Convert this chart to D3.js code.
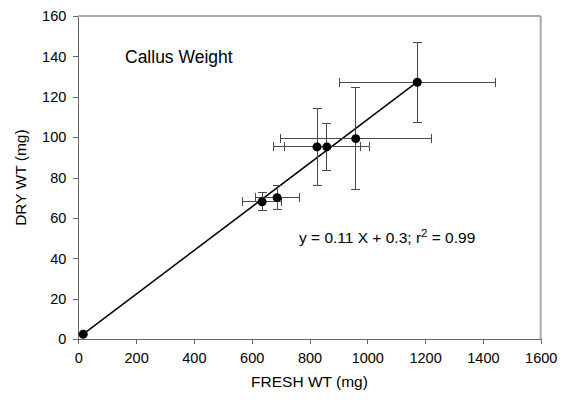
<!DOCTYPE html>
<html>
<meta charset="utf-8">
<script src="https://d3js.org/d3.v7.js"></script>
<style>
    body { margin: 0; background: #fff; }
    text { font-family: "Liberation Sans", Arial, sans-serif; fill: #000; }
</style>
<body>
    <div id="my_scatter"></div>
    <script>

        // data (mg)
        var freshWt = [17, 636, 688, 826, 860, 960, 1173];
        var dryWt = [2.5, 68.1, 70.1, 95.2, 95.2, 99.3, 127.2];
        var freshErr = [0, 68, 76, 150, 147, 262, 269];
        var dryErr = [0, 4.6, 6, 19.2, 11.6, 25.2, 19.7];

        // fitted line, as drawn
        var fitSlope = 0.108;
        var fitIntercept = 0.7;
        var fitRange = [17, 1173];

        var xTicks = [0, 200, 400, 600, 800, 1000, 1200, 1400, 1600];
        var yTicks = [0, 20, 40, 60, 80, 100, 120, 140, 160];

        // set the dimensions and margins of the graph
        var margin = { top: 16, right: 27.3, bottom: 60.7, left: 78.3 },
            width = 568 - margin.left - margin.right,
            height = 400 - margin.top - margin.bottom;

        var svg = d3.select("#my_scatter")
            .append("svg")
            .attr("width", 568)
            .attr("height", 400)
            .append("g")
            .attr("transform", "translate(" + margin.left + "," + margin.top + ")");

        var x = d3.scaleLinear().domain([0, 1600]).range([0, width]);
        var y = d3.scaleLinear().domain([0, 160]).range([height, 0]);

        // frame: top and right in light grey
        svg.append("line")
            .attr("x1", 0).attr("x2", width).attr("y1", 0).attr("y2", 0)
            .style("stroke", "#a8a8a8").style("stroke-width", 2);
        svg.append("line")
            .attr("x1", width).attr("x2", width).attr("y1", 0).attr("y2", height)
            .style("stroke", "#a8a8a8").style("stroke-width", 2);

        // axes
        var xAxis = svg.append("g")
            .attr("transform", "translate(0," + height + ")")
            .call(d3.axisBottom(x).tickValues(xTicks).tickFormat(d3.format("d"))
                .tickSize(5).tickPadding(8).tickSizeOuter(0));
        var yAxis = svg.append("g")
            .call(d3.axisLeft(y).tickValues(yTicks).tickFormat(d3.format("d"))
                .tickSize(5).tickPadding(7).tickSizeOuter(0));

        [xAxis, yAxis].forEach(function (a) {
            a.selectAll("path, line").style("stroke", "#666").style("shape-rendering", "crispEdges");
            a.selectAll("text").style("font-size", "14.5px").style("font-family", "Liberation Sans, Arial, sans-serif").attr("fill", "#000");
        });

        // axis titles
        svg.append("text")
            .attr("x", width / 2)
            .attr("y", height + 48)
            .attr("text-anchor", "middle")
            .style("font-size", "15.5px")
            .text("FRESH WT (mg)");
        svg.append("text")
            .attr("transform", "translate(" + (-52) + "," + (height / 2) + ") rotate(-90)")
            .attr("text-anchor", "middle")
            .style("font-size", "15.5px")
            .text("DRY WT (mg)");

        // chart title
        svg.append("text")
            .attr("x", 125 - margin.left)
            .attr("y", 62.5 - margin.top)
            .style("font-size", "17.5px")
            .text("Callus Weight");

        // regression line
        svg.append("line")
            .attr("x1", x(fitRange[0]))
            .attr("y1", y(fitSlope * fitRange[0] + fitIntercept))
            .attr("x2", x(fitRange[1]))
            .attr("y2", y(fitSlope * fitRange[1] + fitIntercept))
            .style("stroke", "#000")
            .style("stroke-width", 1.5);

        var pts = freshWt.map(function (d, i) {
            return { fx: d, dy: dryWt[i], ex: freshErr[i], ey: dryErr[i] };
        });

        // error bars with caps
        var cap = 4.5;
        var bars = svg.append("g")
            .style("stroke", "#4a4a4a")
            .style("stroke-width", 1)
            .style("shape-rendering", "crispEdges");

        pts.forEach(function (d) {
            if (d.ex > 0) {
                bars.append("line")
                    .attr("x1", x(d.fx - d.ex)).attr("x2", x(d.fx + d.ex))
                    .attr("y1", y(d.dy)).attr("y2", y(d.dy));
                [d.fx - d.ex, d.fx + d.ex].forEach(function (v) {
                    bars.append("line")
                        .attr("x1", x(v)).attr("x2", x(v))
                        .attr("y1", y(d.dy) - cap).attr("y2", y(d.dy) + cap);
                });
            }
            if (d.ey > 0) {
                bars.append("line")
                    .attr("x1", x(d.fx)).attr("x2", x(d.fx))
                    .attr("y1", y(d.dy - d.ey)).attr("y2", y(d.dy + d.ey));
                [d.dy - d.ey, d.dy + d.ey].forEach(function (v) {
                    bars.append("line")
                        .attr("x1", x(d.fx) - cap).attr("x2", x(d.fx) + cap)
                        .attr("y1", y(v)).attr("y2", y(v));
                });
            }
        });

        // the points
        svg.selectAll("circle.pt")
            .data(pts)
            .enter()
            .append("circle")
            .attr("class", "pt")
            .attr("cx", function (d) { return x(d.fx) })
            .attr("cy", function (d) { return y(d.dy) })
            .attr("r", 4.5)
            .style("fill", "#000");

        // equation
        var eq = svg.append("text")
            .attr("x", 299 - margin.left)
            .attr("y", 243 - margin.top)
            .style("font-size", "15.5px");
        eq.append("tspan").text("y = 0.11 X + 0.3; r");
        eq.append("tspan").attr("dy", -6).style("font-size", "11.5px").text("2");
        eq.append("tspan").attr("dy", 6).text(" = 0.99");

    </script>
</body>

</html>
